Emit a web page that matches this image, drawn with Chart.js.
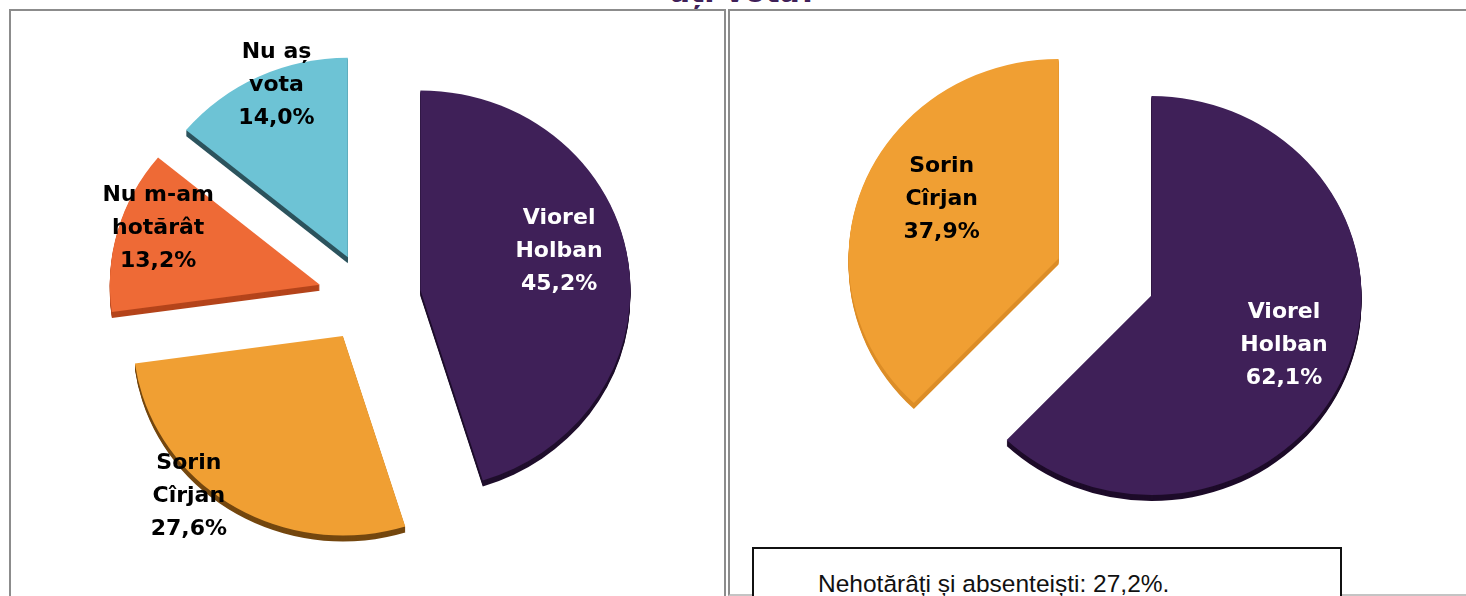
<!DOCTYPE html>
<html lang="ro">
<head>
<meta charset="utf-8">
<title>Intenția de vot</title>
<script src="https://cdn.jsdelivr.net/npm/chart.js@4.4.1/dist/chart.umd.min.js"></script>
<style>
    html, body {
        margin: 0;
        padding: 0;
        background: #fff;
        width: 1466px;
        height: 596px;
        overflow: hidden;
        position: relative;
    }
    .title {
        position: absolute;
        left: 0;
        width: 1487px;
        top: -25px;
        text-align: center;
        font: bold 30px "DejaVu Sans", sans-serif;
        color: #3f2058;
        line-height: 34px;
    }
    .panel {
        position: absolute;
        border: 2px solid #8c8c8c;
        box-sizing: border-box;
    }
    #panelLeft { left: 9px; top: 9px; width: 717px; height: 640px; }
    #panelRight { left: 728px; top: 9px; width: 800px; height: 587px; border-bottom-color: #c4c4c4; }
    canvas { position: absolute; }
    #chartLeft { left: 10px; top: 0; }
    #chartRight { left: 735px; top: 0; }
    .note {
        position: absolute;
        left: 752px;
        top: 547px;
        width: 590px;
        height: 80px;
        box-sizing: border-box;
        border: 2px solid #111;
        background: #fff;
        font: 24.5px "Liberation Sans", Arial, sans-serif;
        color: #111;
        padding: 21px 0 0 64px;
    }
</style>
</head>
<body>
<div class="title">ați vota?</div>
<div class="panel" id="panelLeft"></div>
<div class="panel" id="panelRight"></div>
<canvas id="chartLeft" width="714" height="596"></canvas>
<canvas id="chartRight" width="740" height="554"></canvas>
<div class="note">Nehotărâți și absenteiști: 27,2%.</div>

<script>
// Data
const leftCategories = [['Viorel', 'Holban'], ['Sorin', 'Cîrjan'], ['Nu m-am', 'hotărât'], ['Nu aș', 'vota']];
const leftValues = [45.2, 27.6, 13.2, 14.0];

const rightCategories = [['Viorel', 'Holban'], ['Sorin', 'Cîrjan']];
const rightValues = [62.1, 37.9];

(function() {
    'use strict';

    const PURPLE = '#3f2058';
    const ORANGE = '#f09f33';
    const RED = '#ee6a36';
    const CYAN = '#6dc3d5';

    function fmt(v) {
        return v.toFixed(1).replace('.', ',') + '%';
    }

    function apexOf(arc, pull) {
        const mid = (arc.startAngle + arc.endAngle) / 2;
        return [arc.x + Math.cos(mid) * pull, arc.y + Math.sin(mid) * pull];
    }

    // exploded slices with a dark rim underneath, ellipse-squashed a little
    const pie3d = {
        id: 'pie3d',
        beforeDatasetsDraw(chart, args, opts) {
            const ctx = chart.ctx;
            const arcs = chart.getDatasetMeta(0).data;

            function path(arc, i, dy) {
                const [ax, ay] = apexOf(arc, opts.pulls[i]);
                ctx.beginPath();
                ctx.moveTo(ax, ay + dy);
                ctx.ellipse(ax, ay + dy, arc.outerRadius, arc.outerRadius * opts.squash, 0, arc.startAngle, arc.endAngle);
                ctx.closePath();
            }

            ctx.save();
            arcs.forEach((arc, i) => {
                ctx.fillStyle = opts.sides[i];
                for (let k = opts.depth; k > 0; k--) {
                    path(arc, i, k);
                    ctx.fill();
                }
            });
            arcs.forEach((arc, i) => {
                path(arc, i, 0);
                ctx.fillStyle = arc.options.backgroundColor;
                ctx.fill();
            });
            ctx.restore();
            return false;
        },
        // labels go here, afterDatasetsDraw is skipped once the draw above is cancelled
        afterDraw(chart, args, opts) {
            const ctx = chart.ctx;
            const arcs = chart.getDatasetMeta(0).data;
            const labels = chart.data.labels;
            const values = chart.data.datasets[0].data;
            ctx.save();
            ctx.font = 'bold 22px "DejaVu Sans", sans-serif';
            ctx.textAlign = 'center';
            ctx.textBaseline = 'middle';
            arcs.forEach((arc, i) => {
                const [ax, ay] = apexOf(arc, opts.pulls[i]);
                const [af, rf] = opts.labelAt[i];
                const a = arc.startAngle + af * (arc.endAngle - arc.startAngle);
                const r = rf * arc.outerRadius;
                const x = ax + Math.cos(a) * r;
                const y = ay + Math.sin(a) * r + 3;
                const lines = labels[i].concat([fmt(values[i])]);
                const lh = 33;
                ctx.fillStyle = opts.textColors[i];
                lines.forEach((t, j) => {
                    ctx.fillText(t, x, y + (j - (lines.length - 1) / 2) * lh);
                });
            });
            ctx.restore();
        }
    };

    function makePie(id, labels, values, colors, pie3dOpts) {
        new Chart(document.getElementById(id), {
            type: 'pie',
            data: {
                labels: labels,
                datasets: [{
                    data: values,
                    backgroundColor: colors,
                    borderWidth: 0
                }]
            },
            options: {
                responsive: false,
                animation: false,
                radius: 210,
                layout: { padding: 0 },
                plugins: {
                    legend: { display: false },
                    tooltip: { enabled: false },
                    pie3d: pie3dOpts
                }
            },
            plugins: [pie3d]
        });
    }

    makePie('chartLeft', leftCategories, leftValues, [PURPLE, ORANGE, RED, CYAN], {
        pulls: [54, 45, 49, 45],
        squash: 0.95,
        depth: 6,
        sides: ['#1f0e2c', '#74470f', '#b4441b', '#2c535d'],
        textColors: ['#ffffff', '#000000', '#000000', '#000000'],
        labelAt: [[0.45, 0.69], [0.62, 1.05], [0.59, 0.82], [0.56, 0.9]]
    });

    makePie('chartRight', rightCategories, rightValues, [PURPLE, ORANGE], {
        pulls: [50, 50],
        squash: 0.95,
        depth: 6,
        sides: ['#1d0b29', '#dc8d27'],
        textColors: ['#ffffff', '#000000'],
        labelAt: [[0.49, 0.67], [0.545, 0.63]]
    });
})();
</script>
</body>
</html>
